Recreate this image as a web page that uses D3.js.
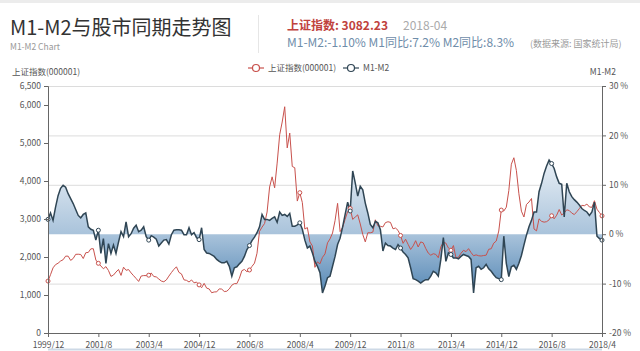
<!DOCTYPE html>
<html><head><meta charset="utf-8">
<script src="https://cdn.jsdelivr.net/npm/d3@7/dist/d3.min.js"></script>
<style>
html,body{margin:0;padding:0;background:#fff;}
text{font-family:"Noto Sans CJK SC","Noto Sans",sans-serif;}
</style></head>
<body>
<svg id="c" width="640" height="351"></svg>
<script>
// ---- data ----
const startMonth = [1999, 12];
const xTickLabels = ["1999/12","2001/8","2003/4","2004/12","2006/8","2008/4","2009/12","2011/8","2013/4","2014/12","2016/8","2018/4"];
const leftTicks = [0,1000,2000,3000,4000,5000,6000,6500];
const rightTicks = [-20,-10,0,10,20,30];
const gridTicks = [-10,10,20,30];
// 上证指数 monthly close
const sse = [1367,
1535,1715,1800,1836,1894,1928,2023,2022,1911,1961,2070,2073,
2066,1960,2113,2120,2214,2218,1921,1834,1764,1690,1747,1646,
1490,1525,1604,1672,1516,1732,1650,1669,1581,1507,1434,1357,
1499,1511,1510,1521,1577,1487,1476,1421,1367,1348,1397,1497,
1590,1675,1742,1595,1555,1399,1386,1342,1396,1320,1340,1266,
1191,1306,1181,1159,1060,1080,1083,1162,1155,1092,1099,1161,
1258,1299,1299,1440,1641,1672,1612,1658,1753,1838,2099,2675,
2786,2881,3183,3841,4109,3821,4471,5218,5552,5954,4871,5261,
4383,4348,3472,3693,3433,2736,2775,2397,2293,1728,1871,1820,
1991,2082,2373,2477,2632,2959,3412,2667,2779,2995,3195,3277,
2989,3051,3109,2870,2592,2398,2638,2638,2655,2979,2820,2808,
2790,2905,2928,2911,2743,2762,2701,2567,2359,2468,2333,2199,
2292,2429,2263,2397,2373,2225,2103,2047,2086,2069,1980,2269,
2385,2366,2237,2178,2301,1979,1994,2098,2175,2141,2220,2116,
2033,2056,2033,2026,2039,2048,2202,2217,2364,2420,2683,3235,
3210,3310,3748,4442,4612,4277,3664,3206,3053,3383,3445,3539,
2738,2688,3004,2938,2917,2930,2979,3085,3005,3100,3250,3104,
3159,3242,3223,3155,3117,3192,3273,3361,3349,3393,3317,3307,
3481,3259,3169,3082];
// M1-M2 (%)
const m1m2 = [3.0,
4.3,2.8,5.5,7.8,9.3,9.9,9.5,8.2,7.2,6.2,5.0,3.8,
3.3,4.0,4.3,1.5,1.0,0.8,-1.2,0.8,-3.9,-0.9,-5.9,-1.9,
-3.9,-2.2,-3.9,-1.6,0.5,-0.5,2.5,-0.5,0.1,1.2,1.8,0.5,
0.8,1.5,-0.5,-1.2,-0.3,-0.6,-1.0,-2.4,-1.8,-1.2,-1.1,-2.0,
-0.1,0.8,0.9,0.9,0.8,-0.1,-0.1,1.3,-0.1,0.3,-0.7,-1.1,
1.3,-3.1,-3.8,-3.9,-4.2,-4.5,-5.1,-5.5,-5.8,-5.8,-5.5,-6.5,
-8.5,-6.8,-6.6,-6.0,-5.5,-4.5,-3.1,-2.3,-1.3,-0.6,0.3,1.5,
4.0,3.0,3.0,2.8,3.2,3.5,2.4,4.5,3.8,4.0,3.6,4.2,
1.6,1.6,1.9,2.3,1.0,-1.2,-2.8,-2.4,-3.8,-5.5,-6.5,-7.8,
-11.9,-10.5,-8.8,-8.5,-6.5,-4.5,-2.1,-0.8,1.5,4.0,6.5,4.7,
12.8,10.4,7.7,9.7,9.0,6.3,4.3,2.0,1.3,2.6,2.3,0.9,
-3.4,-1.8,-2.3,-2.4,-2.8,-3.1,-2.1,-2.8,-3.6,-4.1,-4.8,-6.8,
-9.0,-9.2,-9.5,-9.9,-9.5,-9.2,-9.2,-8.5,-7.5,-7.8,-8.5,-5.1,
-0.7,-5.5,-3.8,-4.1,-4.8,-4.8,-5.0,-4.5,-4.1,-4.3,-4.5,-5.1,
-11.9,-6.8,-6.5,-7.1,-6.8,-6.1,-7.0,-7.5,-8.2,-8.8,-9.0,-9.2,
-0.4,-5.9,-8.6,-6.6,-6.3,-7.1,-5.9,-4.3,-2.2,-0.2,1.5,2.8,
4.5,4.5,8.6,10.3,12.3,13.8,15.0,14.3,13.3,11.6,10.3,10.1,
3.5,10.3,8.6,7.6,7.0,6.5,5.9,5.2,4.8,4.5,3.8,4.5,
6.5,-0.4,-0.9,-1.2];

const months = sse.map((d,i)=>{
  const t = startMonth[0]*12 + (startMonth[1]-1) + i;
  return Math.floor(t/12) + "/" + (t%12+1);
});

// ---- chart ----
const svg = d3.select("#c");
const L = 48, R = 602, T = 86, B = 333;
const x = d3.scalePoint().domain(months).range([L, R]);
const yL = d3.scaleLinear().domain([0, 6500]).range([B, T]);
const yR = d3.scaleLinear().domain([-20, 30]).range([B, T]);

const defs = svg.append("defs");
const g1 = defs.append("linearGradient").attr("id","ag").attr("gradientUnits","userSpaceOnUse")
  .attr("x1",0).attr("x2",0).attr("y1",yR(17)).attr("y2",yR(-13));
g1.append("stop").attr("offset",0).attr("stop-color","#f1f5f9");
g1.append("stop").attr("offset",17/30).attr("stop-color","#a9c3db");
g1.append("stop").attr("offset",1).attr("stop-color","#4f83b2");

// top border
svg.append("line").attr("x1",0).attr("x2",640).attr("y1",1.5).attr("y2",1.5).attr("stroke","#ececec").attr("stroke-width",3);

// title
svg.append("text").attr("x",10).attr("y",35).attr("font-size",20).attr("fill","#333").text("M1-M2与股市同期走势图");
svg.append("text").attr("x",10).attr("y",50).attr("font-size",8.5).attr("fill","#999").text("M1-M2 Chart");
svg.append("line").attr("x1",258.5).attr("x2",258.5).attr("y1",15).attr("y2",53).attr("stroke","#e6e6e6");

svg.append("text").attr("x",287).attr("y",30).attr("font-size",12).attr("font-weight","bold").attr("fill","#c0423d").text("上证指数: 3082.23");
svg.append("text").attr("x",403).attr("y",30).attr("font-size",12).attr("fill","#aaa").text("2018-04");
svg.append("text").attr("x",287).attr("y",47).attr("font-size",12).attr("fill","#6f8daa").text("M1-M2:-1.10% M1同比:7.2% M2同比:8.3%");
svg.append("text").attr("x",530).attr("y",47).attr("font-size",9).attr("fill","#999").text("(数据来源: 国家统计局)");

// gridlines
svg.append("g").selectAll("line").data(gridTicks).join("line")
  .attr("x1",L).attr("x2",R).attr("y1",d=>yR(d)+0.5).attr("y2",d=>yR(d)+0.5)
  .attr("stroke","#dcdcdc").attr("stroke-width",1);

// area
const area = d3.area().x((d,i)=>x(months[i])).y0(yR(0)).y1(d=>yR(d));
svg.append("path").datum(m1m2).attr("d",area).attr("fill","url(#ag)");

// lines
const lineR = d3.line().x((d,i)=>x(months[i])).y(d=>yL(d));
const lineB = d3.line().x((d,i)=>x(months[i])).y(d=>yR(d));
svg.append("path").datum(sse).attr("d",lineR).attr("fill","none").attr("stroke","#c8514c").attr("stroke-width",1);
svg.append("path").datum(m1m2).attr("d",lineB).attr("fill","none").attr("stroke","#2f4554").attr("stroke-width",1.5);

// markers at labelled months
const markIdx = months.map((m,i)=>i).filter(i=>xTickLabels.includes(months[i]));
svg.append("g").selectAll("circle").data(markIdx).join("circle")
  .attr("cx",i=>x(months[i])).attr("cy",i=>yL(sse[i])).attr("r",2)
  .attr("fill","#fff").attr("stroke","#c8514c").attr("stroke-width",1);
svg.append("g").selectAll("circle").data(markIdx).join("circle")
  .attr("cx",i=>x(months[i])).attr("cy",i=>yR(m1m2[i])).attr("r",2)
  .attr("fill","#fff").attr("stroke","#2f4554").attr("stroke-width",1);

// axes
function styleAxis(g){
  g.selectAll("path").attr("stroke","#666");
  g.selectAll("line").attr("stroke","#666");
  g.selectAll("text").attr("fill","#555").attr("font-size",8.5).style("font-family",'"Noto Sans CJK SC",sans-serif');
}
svg.append("g").attr("transform",`translate(${L},0)`)
  .call(d3.axisLeft(yL).tickValues(leftTicks).tickFormat(d3.format(",")).tickSizeOuter(0).tickSize(4))
  .call(styleAxis);
svg.append("g").attr("transform",`translate(${R},0)`)
  .call(d3.axisRight(yR).tickValues(rightTicks).tickFormat(d=>d+" %").tickSizeOuter(0).tickSize(4))
  .call(styleAxis);
svg.append("g").attr("transform",`translate(0,${B})`)
  .call(d3.axisBottom(x).tickValues(xTickLabels).tickSizeOuter(0).tickSize(4).tickPadding(5))
  .call(styleAxis);

// axis titles
svg.append("text").attr("x",12).attr("y",75).attr("font-size",8.5).attr("fill","#555").text("上证指数(000001)");
svg.append("text").attr("x",616).attr("y",75).attr("font-size",8.5).attr("fill","#555").attr("text-anchor","end").text("M1-M2");

// legend
const legend = [{name:"上证指数(000001)", color:"#c8514c", x:248},{name:"M1-M2", color:"#2f4554", x:343}];
const lg = svg.append("g").selectAll("g").data(legend).join("g").attr("transform",d=>`translate(${d.x},68)`);
lg.append("line").attr("x1",0).attr("x2",16).attr("y1",0).attr("y2",0).attr("stroke",d=>d.color).attr("stroke-width",1.2);
lg.append("circle").attr("cx",8).attr("cy",0).attr("r",3.5).attr("fill","#fff").attr("stroke",d=>d.color).attr("stroke-width",1.2);
lg.append("text").attr("x",20).attr("y",3).attr("font-size",8.5).attr("fill","#555").text(d=>d.name);

// bottom slider line
svg.append("line").attr("x1",L).attr("x2",R).attr("y1",349.5).attr("y2",349.5).attr("stroke","#cdd9e6").attr("stroke-width",2);
</script>
</body></html>
